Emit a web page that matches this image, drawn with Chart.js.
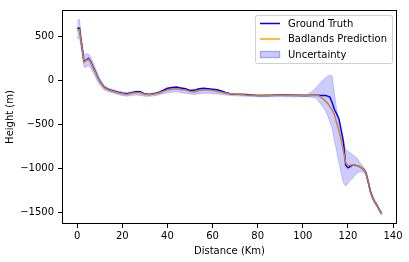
<!DOCTYPE html>
<html>
<head>
<meta charset="utf-8">
<script src="https://cdn.jsdelivr.net/npm/chart.js@4.4.1/dist/chart.umd.min.js"></script>
<style>
  html, body { margin: 0; padding: 0; background: #fff; }
  #wrap { width: 409px; height: 262px; }
</style>
</head>
<body>
<div id="wrap"><canvas id="profileChart" width="409" height="262"></canvas></div>
<script>
/* ── Profile data ── */
var distKm = [0, 1, 2, 3, 4, 5, 6, 7, 8, 9, 10, 12, 14, 16, 18, 20, 22, 24, 26, 28,
  30, 32, 34, 36, 38, 40, 42, 44, 46, 48, 50, 52, 54, 56, 58, 60, 62, 64, 66, 68,
  70, 75, 80, 85, 90, 95, 100, 102, 104, 106, 107, 108, 109, 110, 111, 112, 113, 114,
  115, 116, 117, 118, 119, 120, 121, 122, 123, 124, 125, 126, 127, 128, 129, 130,
  131, 132, 133, 134, 135];

var groundTruth = [590, 590, 400, 215, 230, 250, 210, 150, 100, 40, -10, -80, -105, -120, -135, -145, -150, -140, -130, -130,
  -155, -160, -150, -140, -115, -90, -80, -75, -85, -95, -115, -110, -95, -90, -95, -100, -105, -120, -140, -150,
  -155, -160, -170, -170, -165, -168, -170, -170, -168, -168, -168, -170, -170, -172, -178, -190, -250, -330,
  -380, -433, -560, -692, -960, -990, -975, -960, -960, -965, -975, -990, -1010, -1050, -1150, -1260,
  -1330, -1380, -1420, -1470, -1510];

var prediction = [560, 575, 390, 205, 225, 240, 200, 140, 95, 35, -15, -85, -110, -125, -140, -150, -160, -145, -140, -140,
  -160, -160, -155, -145, -125, -110, -100, -95, -105, -110, -125, -130, -115, -110, -110, -115, -125, -135, -145, -150,
  -155, -165, -170, -168, -168, -170, -170, -170, -170, -172, -175, -190, -210, -235, -260, -295, -335, -390,
  -480, -570, -670, -800, -933, -965, -960, -955, -958, -965, -975, -990, -1010, -1050, -1150, -1260,
  -1330, -1380, -1420, -1470, -1510];

var bandUpper = [680, 690, 450, 290, 300, 300, 260, 200, 140, 80, 20, -60, -90, -105, -120, -130, -140, -130, -120, -125,
  -145, -150, -140, -130, -110, -95, -88, -85, -95, -100, -115, -115, -100, -95, -98, -100, -110, -125, -140, -150,
  -155, -160, -165, -160, -158, -160, -160, -160, -130, -80, -50, -20, 5, 30, 45, 60, 50, -150,
  -330, -470, -600, -700, -780, -805, -820, -840, -860, -880, -920, -950, -985, -1020, -1125, -1240,
  -1310, -1360, -1400, -1450, -1495];

var bandLower = [470, 480, 330, 150, 150, 170, 140, 90, 40, -10, -50, -110, -130, -145, -160, -170, -180, -170, -165, -170,
  -180, -180, -175, -165, -150, -140, -135, -130, -140, -145, -155, -160, -150, -145, -145, -150, -155, -160, -165, -170,
  -175, -180, -185, -185, -185, -185, -185, -185, -190, -200, -235, -270, -305, -340, -400, -470, -550, -680,
  -800, -930, -1050, -1160, -1195, -1170, -1130, -1110, -1080, -1050, -1035, -1030, -1040, -1075, -1175, -1285,
  -1350, -1400, -1440, -1490, -1525];

var xTicks = [0, 20, 40, 60, 80, 100, 120, 140];
var yTicks = [-1500, -1000, -500, 0, 500];

var FONT = "'DejaVu Sans', sans-serif";
var BAND = "rgba(0,0,255,0.2)";

function pts(ys) {
  return distKm.map(function (x, i) { return { x: x, y: ys[i] }; });
}
function minusSign(v) { return String(v).replace("-", "\u2212"); }

/* ── Axes frame (all four spines) ── */
var frameBox = {
  id: "frameBox",
  afterDatasetsDraw: function (chart) {
    var a = chart.chartArea, ctx = chart.ctx;
    ctx.save();
    ctx.strokeStyle = "#000";
    ctx.lineWidth = 1;
    ctx.strokeRect(Math.round(a.left) + 0.5, Math.round(a.top) + 0.5,
      Math.round(a.right - a.left) - 1, Math.round(a.bottom - a.top) - 1);
    ctx.restore();
  }
};

/* ── Legend, upper right inside the axes ── */
var innerLegend = {
  id: "innerLegend",
  afterDraw: function (chart) {
    var ctx = chart.ctx, a = chart.chartArea;
    var order = [3, 2, 0];   /* truth, prediction, band */
    ctx.save();
    ctx.font = "10px " + FONT;
    var maxW = 0;
    order.forEach(function (i) {
      maxW = Math.max(maxW, ctx.measureText(chart.data.datasets[i].label).width);
    });
    var w = 33 + maxW + 5, h = 48;
    var right = a.right - 5, top = a.top + 5, left = right - w;

    ctx.beginPath();
    ctx.roundRect(left + 0.5, top + 0.5, w, h, 2);
    ctx.fillStyle = "rgba(255,255,255,0.8)";
    ctx.fill();
    ctx.strokeStyle = "#d0d0d0";
    ctx.lineWidth = 1;
    ctx.stroke();

    ctx.textBaseline = "middle";
    ctx.textAlign = "left";
    order.forEach(function (idx, r) {
      var ds = chart.data.datasets[idx];
      var cy = top + 8.5 + r * 15.5;
      if (idx === 0) {
        ctx.fillStyle = BAND;
        ctx.fillRect(left + 5, cy - 3.5, 20, 7);
        ctx.strokeStyle = BAND;
        ctx.strokeRect(left + 5.5, cy - 3, 19, 6);
      } else {
        ctx.strokeStyle = ds.borderColor;
        ctx.lineWidth = 1.5;
        ctx.beginPath();
        ctx.moveTo(left + 5, cy);
        ctx.lineTo(left + 25, cy);
        ctx.stroke();
      }
      ctx.fillStyle = "#000";
      ctx.fillText(ds.label, left + 33, cy + 0.5);
    });
    ctx.restore();
  }
};

/* lower dataset index is painted last: band on top, prediction over truth */
new Chart(document.getElementById("profileChart").getContext("2d"), {
  type: "line",
  data: {
    datasets: [
      {
        label: "Uncertainty",
        data: pts(bandUpper),
        borderColor: BAND,
        backgroundColor: BAND,
        borderWidth: 1,
        pointRadius: 0,
        fill: "+1"
      },
      {
        label: "_lower",
        data: pts(bandLower),
        borderColor: BAND,
        borderWidth: 1,
        pointRadius: 0,
        fill: false
      },
      {
        label: "Badlands Prediction",
        data: pts(prediction),
        borderColor: "#ffa500",
        borderWidth: 1.5,
        pointRadius: 0,
        fill: false
      },
      {
        label: "Ground Truth",
        data: pts(groundTruth),
        borderColor: "#0000ff",
        borderWidth: 1.5,
        pointRadius: 0,
        fill: false
      }
    ]
  },
  options: {
    responsive: false,
    animation: false,
    events: [],
    layout: { padding: { top: 6, right: 12, left: 0, bottom: 0 } },
    plugins: {
      legend: { display: false },
      tooltip: { enabled: false },
      filler: { drawTime: "beforeDatasetDraw" }
    },
    scales: {
      x: {
        type: "linear",
        min: -6.75,
        max: 141.75,
        afterBuildTicks: function (s) { s.ticks = xTicks.map(function (v) { return { value: v }; }); },
        afterFit: function (s) { s.height = 38; },
        grid: { drawOnChartArea: false, drawTicks: true, tickLength: 4, tickColor: "#000", tickWidth: 1 },
        border: { display: false },
        ticks: { color: "#000", font: { family: FONT, size: 10 }, padding: 2, maxRotation: 0, callback: minusSign },
        title: { display: true, text: "Distance (Km)", color: "#000", font: { family: FONT, size: 10 }, padding: { top: 0, bottom: 5 } }
      },
      y: {
        type: "linear",
        min: -1626,
        max: 797,
        afterBuildTicks: function (s) { s.ticks = yTicks.map(function (v) { return { value: v }; }); },
        afterFit: function (s) { s.width = 62; },
        grid: { drawOnChartArea: false, drawTicks: true, tickLength: 4, tickColor: "#000", tickWidth: 1 },
        border: { display: false },
        ticks: { color: "#000", font: { family: FONT, size: 10 }, padding: 4, callback: minusSign },
        title: { display: true, text: "Height (m)", color: "#000", font: { family: FONT, size: 10 }, padding: { top: 4, bottom: 0 } }
      }
    }
  },
  plugins: [frameBox, innerLegend]
});
</script>
</body>
</html>
